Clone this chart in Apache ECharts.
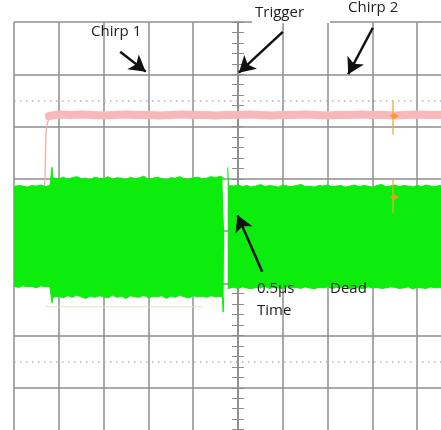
<!DOCTYPE html>
<html>
<head>
<meta charset="utf-8">
<script src="https://cdn.jsdelivr.net/npm/echarts@6/dist/echarts.min.js"></script>
<style>html,body{margin:0;padding:0;background:#fff}#c{width:441px;height:430px}</style>
</head>
<body>
<div id="c"></div>
<script>
// Values in screen divisions (x: -5..5, y: -4..4)
const greenX = [
  -5.00,-4.90,-4.80,-4.70,-4.60,-4.50,-4.40,-4.30,-4.20,-4.16,
  -4.15,-4.13,
  -4.00,-3.90,-3.80,-3.70,-3.60,-3.50,-3.40,-3.30,-3.20,-3.10,-3.00,-2.90,-2.80,-2.70,-2.60,-2.50,-2.40,-2.30,-2.20,-2.10,-2.00,-1.90,-1.80,-1.70,-1.60,-1.50,-1.40,-1.30,-1.20,-1.10,-1.00,-0.90,-0.80,-0.70,-0.60,-0.50,-0.40,
  -0.35,-0.33,-0.32,-0.31,
  -0.27,
  -0.23,-0.21,
  -0.10,0.00,0.10,0.20,0.30,0.40,0.50,0.60,0.70,0.80,0.90,1.00,1.10,1.20,1.30,1.40,1.50,1.60,1.70,1.80,1.90,2.00,2.10,2.20,2.30,2.40,2.50,2.60,2.70,2.80,2.90,3.00,3.10,3.20,3.30,3.40,3.50,3.60,3.70,3.80,3.90,4.00,4.10,4.20,4.30,4.40,4.50,4.60,4.70,4.80,4.90,5.00
];
const greenTop = [
  0.85,0.87,0.86,0.84,0.87,0.86,0.88,0.85,0.87,0.86,
  1.22,1.02,
  1.00,1.03,0.99,1.02,1.04,1.00,1.01,0.98,1.03,1.01,1.00,1.04,0.99,1.02,1.01,0.98,1.03,1.00,1.02,1.05,0.99,1.01,1.03,1.00,0.98,1.02,1.01,1.04,1.00,0.99,1.02,1.03,1.00,1.01,1.04,1.02,1.05,
  1.03,1.03,1.02,1.01,
  null,
  1.22,0.87,
  0.86,0.88,0.85,0.87,0.84,0.86,0.89,0.85,0.87,0.86,0.84,0.88,0.86,0.85,0.87,0.89,0.85,0.86,0.84,0.87,0.86,0.88,0.85,0.86,0.87,0.84,0.86,0.88,0.85,0.87,0.86,0.84,0.87,0.89,0.85,0.86,0.88,0.85,0.87,0.86,0.84,0.87,0.85,0.88,0.86,0.85,0.87,0.86,0.84,0.88,0.86,0.85
];
const greenBottom = [
  -1.06,-1.08,-1.05,-1.07,-1.06,-1.09,-1.05,-1.07,-1.06,-1.07,
  -1.38,-1.27,
  -1.25,-1.28,-1.24,-1.27,-1.23,-1.26,-1.29,-1.25,-1.27,-1.24,-1.26,-1.28,-1.23,-1.27,-1.25,-1.29,-1.24,-1.26,-1.27,-1.23,-1.28,-1.25,-1.26,-1.24,-1.29,-1.25,-1.27,-1.23,-1.26,-1.28,-1.24,-1.26,-1.25,-1.27,-1.24,-1.26,-1.25,
  -1.27,-1.55,-1.27,-1.26,
  null,
  -1.10,-1.09,
  -1.08,-1.10,-1.07,-1.09,-1.11,-1.08,-1.09,-1.06,-1.10,-1.08,-1.09,-1.11,-1.07,-1.09,-1.08,-1.10,-1.07,-1.09,-1.11,-1.08,-1.09,-1.07,-1.10,-1.08,-1.09,-1.06,-1.10,-1.08,-1.09,-1.11,-1.07,-1.09,-1.08,-1.10,-1.09,-1.07,-1.08,-1.10,-1.09,-1.07,-1.11,-1.08,-1.09,-1.10,-1.07,-1.09,-1.08,-1.10,-1.09,-1.07,-1.08,-1.09
];
const pinkRiseX = [-4.32,-4.31,-4.30,-4.29,-4.28,-4.26,-4.23,-4.19,-4.14,-4.08];
const pinkRiseY = [0.80,1.00,1.40,1.70,1.90,2.04,2.12,2.17,2.20,2.22];
const pinkX = [-4.22,-4.00,-3.75,-3.50,-3.25,-3.00,-2.75,-2.50,-2.25,-2.00,-1.75,-1.50,-1.25,-1.00,-0.75,-0.50,-0.25,0.00,0.25,0.50,0.75,1.00,1.25,1.50,1.75,2.00,2.25,2.50,2.75,3.00,3.25,3.50,3.75,4.00,4.25,4.50,4.75,5.00];
const pinkY = [2.20,2.23,2.22,2.23,2.22,2.21,2.22,2.23,2.22,2.22,2.21,2.22,2.23,2.22,2.22,2.21,2.22,2.22,2.23,2.22,2.21,2.22,2.22,2.23,2.22,2.21,2.22,2.22,2.23,2.22,2.22,2.21,2.22,2.23,2.22,2.22,2.21,2.22];
const faintGreenX = [-4.3,-0.8];
const faintGreenY = [-1.45,-1.45];
const cursorX = [3.46,3.46,null,3.46,3.46];
const cursorY = [2.50,1.84,null,0.98,0.34];
const cursorMarkX = [3.49,3.49];
const cursorMarkY = [2.20,0.65];
const dottedLevels = [2.5,-2.5];
const arrows = [
  [[-2.63,3.43],[-2.06,3.05]],
  [[1.00,3.81],[0.02,3.03]],
  [[3.01,3.89],[2.46,3.00]],
  [[0.54,-0.78],[-0.01,0.30]]
];
const labels = [
  {text:'Chirp 1', x:91, y:24},
  {text:'Trigger', x:255, y:5},
  {text:'Chirp 2', x:348, y:0},
  {text:'0.5\u00b5s', x:257, y:281},
  {text:'Dead', x:330, y:281},
  {text:'Time', x:257, y:303}
];

const gridColor = '#8e8e8e';
const green = '#0ded0d';
const pairs = (xs, ys) => xs.map((x,i)=> (x==null||ys[i]==null) ? [x==null?null:x, null] : [x, ys[i]]);

const chart = echarts.init(document.getElementById('c'), null, {renderer:'canvas'});
const tickStyle = {color:gridColor, width:1};
chart.setOption({
  animation:false,
  backgroundColor:'#fff',
  grid:{left:14, top:22, width:448, height:418, containLabel:false, outerBoundsMode:'none'},
  xAxis:{type:'value', min:-5, max:5, interval:1,
    axisLabel:{show:false}, axisLine:{show:false}, axisTick:{show:false},
    splitLine:{show:true, lineStyle:{color:gridColor, width:1.5}}},
  yAxis:[
    {type:'value', min:-4, max:4, interval:1, position:'left',
      axisLabel:{show:false},
      axisLine:{show:true, onZero:true, onZeroAxisIndex:0, lineStyle:{color:gridColor, width:1.5}},
      axisTick:{show:true, inside:true, length:6, lineStyle:tickStyle},
      minorTick:{show:true, splitNumber:5, length:6, lineStyle:tickStyle},
      splitLine:{show:true, lineStyle:{color:gridColor, width:1.5}}},
    {type:'value', min:-4, max:4, interval:1, position:'left',
      axisLabel:{show:false},
      axisLine:{show:true, onZero:true, onZeroAxisIndex:0, lineStyle:{color:gridColor, width:1.5}},
      axisTick:{show:true, inside:false, length:6, lineStyle:tickStyle},
      minorTick:{show:true, splitNumber:5, length:6, lineStyle:tickStyle},
      splitLine:{show:false}}
  ],
  series:[
    {type:'line', name:'levels', data:[], z:1,
      markLine:{silent:true, symbol:'none', label:{show:false},
        lineStyle:{color:'#b4b4b4', type:[1.5,4.5], width:1.5},
        data: dottedLevels.map(v=>({yAxis:v}))}},
    {type:'line', name:'pinkRise', data:pairs(pinkRiseX,pinkRiseY), showSymbol:false, z:2, smooth:0.3,
      lineStyle:{color:'#f4a9a9', width:1.3}},
    {type:'line', name:'pink', data:pairs(pinkX,pinkY), showSymbol:false, z:2,
      lineStyle:{color:'#f6b8b8', width:8, cap:'round'}},
    {type:'line', name:'faint', data:pairs(faintGreenX,faintGreenY), showSymbol:false, z:2,
      lineStyle:{color:'#bff5bf', width:1}},
    {type:'line', name:'gTop', data:pairs(greenX,greenTop), showSymbol:false, z:3,
      lineStyle:{color:green, width:1}, areaStyle:{color:green, opacity:1, origin:0}, connectNulls:false},
    {type:'line', name:'gBottom', data:pairs(greenX,greenBottom), showSymbol:false, z:3,
      lineStyle:{color:green, width:1}, areaStyle:{color:green, opacity:1, origin:0}, connectNulls:false},
    {type:'line', name:'cursor', data:pairs(cursorX,cursorY), showSymbol:false, z:4,
      lineStyle:{color:'#f5a830', width:1.5, opacity:0.85}, connectNulls:false},
    {type:'scatter', name:'cursorMark', data:pairs(cursorMarkX,cursorMarkY), z:4,
      symbol:'diamond', symbolSize:[9,6], itemStyle:{color:'#f39a20', opacity:0.85}},
    {type:'line', name:'arrows', data:[], z:10,
      markLine:{silent:true, symbol:['none','arrow'], symbolSize:[14,16], label:{show:false},
        lineStyle:{color:'#111', width:2.5, type:'solid'},
        data: arrows.map(a=>[{coord:a[0]},{coord:a[1]}])}}
  ],
  graphic:[
    {type:'rect', left:252, top:0, shape:{width:78, height:23}, style:{fill:'#fff'}, z:50},
    ...labels.map(l=>({type:'text', left:l.x, top:l.y, z:60,
      style:{text:l.text, fill:'#1e1e1e', font:'15px "Open Sans", sans-serif'}}))
  ]
});
</script>
</body>
</html>
